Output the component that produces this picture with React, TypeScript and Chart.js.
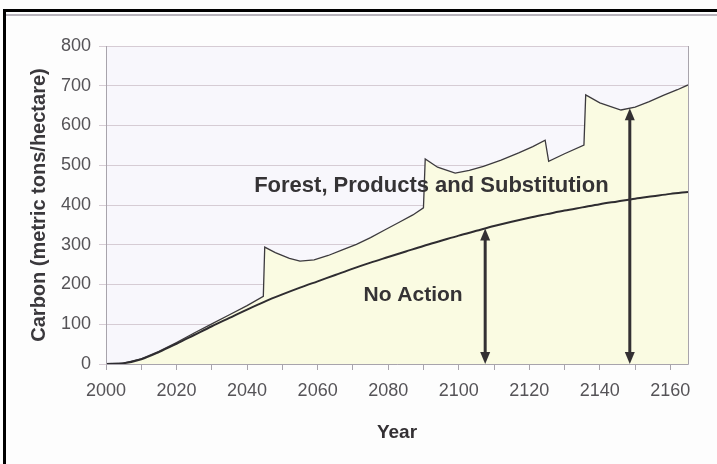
import React, { useEffect, useRef } from "react";
import { Chart, registerables } from "chart.js";

Chart.register(...registerables);

const FONT = '"Liberation Sans", Arial, Helvetica, sans-serif';

// Series names
const seriesNames = ["Forest, Products and Substitution", "No Action"];

// Forest, Products and Substitution (saw-tooth: harvest jumps into products)
const forestYears = [
  2000, 2005, 2010, 2015, 2020, 2025, 2030, 2035, 2040, 2044.6, 2045, 2048, 2052, 2055, 2059,
  2063, 2067, 2071, 2075, 2079, 2083, 2087, 2090, 2090.5, 2094, 2099, 2103, 2107, 2112, 2117,
  2121, 2124.5, 2125.5, 2130, 2135.5, 2136, 2140, 2146, 2150, 2154, 2158, 2162, 2165,
];
const forestValues = [
  0, 2, 13, 32, 54, 78, 101, 124, 147, 170, 294, 280, 266, 259, 262,
  273, 287, 301, 318, 337, 356, 375, 393, 516, 495, 480, 487, 497, 513, 531,
  547, 563, 510, 529, 551, 677, 657, 639, 646, 660, 676, 690, 702,
];

// No Action
const noActionYears = [
  2000, 2005, 2010, 2015, 2020, 2025, 2030, 2035, 2040, 2045, 2050, 2055, 2060, 2065, 2070, 2075, 2080,
  2085, 2090, 2095, 2100, 2105, 2110, 2115, 2120, 2125, 2130, 2135, 2140, 2145, 2150, 2155, 2160, 2165,
];
const noActionValues = [
  0, 2, 12, 30, 51, 73, 95, 116, 137, 157, 175, 192, 208, 224, 240, 255, 269,
  283, 297, 310, 323, 335, 347, 358, 368, 377, 386, 394, 402, 409, 416, 422, 428, 433,
];

// Axis ticks
const xLabelYears = [2000, 2020, 2040, 2060, 2080, 2100, 2120, 2140, 2160];
const yMin = 0;
const yMax = 800;
const yStep = 100;

// Double-headed arrows: the first reaches No Action, the second the Forest series
const arrowYears = [2107.5, 2148.5];

function valueAt(xs: number[], ys: number[], x: number): number {
  for (let i = 0; i < xs.length - 1; i++) {
    if (x >= xs[i] && x <= xs[i + 1]) {
      const t = (x - xs[i]) / (xs[i + 1] - xs[i]);
      return ys[i] + t * (ys[i + 1] - ys[i]);
    }
  }
  return ys[ys.length - 1];
}

function drawArrow(ctx: CanvasRenderingContext2D, x: number, yTop: number, yBottom: number) {
  const head = 12;
  const half = 5;
  ctx.beginPath();
  ctx.moveTo(x, yTop + head - 1);
  ctx.lineTo(x, yBottom - head + 1);
  ctx.stroke();
  ctx.beginPath();
  ctx.moveTo(x, yTop);
  ctx.lineTo(x - half, yTop + head);
  ctx.lineTo(x + half, yTop + head);
  ctx.closePath();
  ctx.fill();
  ctx.beginPath();
  ctx.moveTo(x, yBottom);
  ctx.lineTo(x - half, yBottom - head);
  ctx.lineTo(x + half, yBottom - head);
  ctx.closePath();
  ctx.fill();
}

const decorPlugin = {
  id: "decor",
  beforeDraw(chart: any) {
    const { ctx, chartArea: a } = chart;
    ctx.save();
    ctx.fillStyle = "#f8f7fc";
    ctx.fillRect(a.left, a.top, a.right - a.left, a.bottom - a.top);
    ctx.restore();
  },
  afterDatasetsDraw(chart: any) {
    const { ctx, chartArea: a, scales } = chart;
    const x = scales.x;
    const y = scales.y;
    ctx.save();

    // plot frame: left axis, bottom axis, right edge
    ctx.strokeStyle = "#a8a4ac";
    ctx.lineWidth = 1;
    ctx.beginPath();
    ctx.moveTo(Math.round(a.left) + 0.5, a.top);
    ctx.lineTo(Math.round(a.left) + 0.5, Math.round(a.bottom) + 0.5);
    ctx.lineTo(Math.round(a.right) + 0.5, Math.round(a.bottom) + 0.5);
    ctx.lineTo(Math.round(a.right) + 0.5, a.top);
    ctx.stroke();

    // arrows
    ctx.strokeStyle = "#333033";
    ctx.fillStyle = "#333033";
    ctx.lineWidth = 3;
    const base = y.getPixelForValue(0);
    const v1 = valueAt(noActionYears, noActionValues, arrowYears[0]);
    drawArrow(ctx, x.getPixelForValue(arrowYears[0]), y.getPixelForValue(v1), base);
    const v2 = valueAt(forestYears, forestValues, arrowYears[1]);
    drawArrow(ctx, x.getPixelForValue(arrowYears[1]), y.getPixelForValue(v2), base);

    // series labels
    ctx.fillStyle = "#353335";
    ctx.textAlign = "left";
    ctx.textBaseline = "middle";
    ctx.font = `bold 22px ${FONT}`;
    ctx.fillText(seriesNames[0], x.getPixelForValue(2042), y.getPixelForValue(447));
    ctx.font = `bold 21px ${FONT}`;
    ctx.fillText(seriesNames[1], x.getPixelForValue(2073), y.getPixelForValue(174));
    ctx.restore();
  },
};

export default function App() {
  const canvasRef = useRef<HTMLCanvasElement | null>(null);

  useEffect(() => {
    const canvas = canvasRef.current;
    if (!canvas) return;
    const chart = new Chart(canvas, {
      type: "line",
      data: {
        datasets: [
          {
            label: seriesNames[0],
            data: forestYears.map((yr, i) => ({ x: yr, y: forestValues[i] })),
            borderColor: "#3c3a3e",
            borderWidth: 1.3,
            backgroundColor: "rgb(250,251,226)",
            fill: "origin",
            pointRadius: 0,
            tension: 0,
            order: 2,
          },
          {
            label: seriesNames[1],
            data: noActionYears.map((yr, i) => ({ x: yr, y: noActionValues[i] })),
            borderColor: "#2e2c30",
            borderWidth: 2,
            fill: false,
            pointRadius: 0,
            cubicInterpolationMode: "monotone",
            order: 1,
          },
        ],
      },
      options: {
        responsive: false,
        animation: false,
        devicePixelRatio: 1,
        layout: { padding: { left: 0, top: 46, right: 29, bottom: 0 } },
        plugins: {
          legend: { display: false },
          tooltip: { enabled: false },
        },
        scales: {
          x: {
            type: "linear",
            min: 2000,
            max: 2165,
            afterFit: (s: any) => {
              s.height = 100;
            },
            grid: {
              drawOnChartArea: false,
              drawTicks: true,
              tickLength: 6,
              color: "#a8a4ac",
            },
            border: { display: false },
            ticks: {
              stepSize: 10,
              includeBounds: false,
              autoSkip: false,
              maxRotation: 0,
              padding: 10,
              color: "#555357",
              font: { family: FONT, size: 18 },
              callback: (v: any) => (xLabelYears.includes(Number(v)) ? String(v) : ""),
            },
            title: {
              display: true,
              text: "Year",
              color: "#333033",
              font: { family: FONT, size: 19, weight: "bold" },
              padding: { top: 0, bottom: 20 },
            },
          },
          y: {
            min: yMin,
            max: yMax,
            afterFit: (s: any) => {
              s.width = 106;
            },
            grid: {
              color: "#d6ccd4",
              tickLength: 7,
              drawTicks: true,
            },
            border: { display: false },
            ticks: {
              stepSize: yStep,
              padding: 8,
              color: "#555357",
              font: { family: FONT, size: 18 },
            },
            title: {
              display: true,
              text: "Carbon (metric tons/hectare)",
              color: "#3a383c",
              font: { family: FONT, size: 20, weight: "bold" },
              padding: { top: 27, bottom: 0 },
            },
          },
        },
      },
      plugins: [decorPlugin],
    } as any);
    return () => chart.destroy();
  }, []);

  return (
    <div
      style={{
        position: "absolute",
        left: 0,
        top: 0,
        width: 717,
        height: 464,
        background: "#fdfdfd",
        overflow: "hidden",
      }}
    >
      <div
        style={{
          position: "absolute",
          left: 3,
          top: 9,
          width: 780,
          height: 520,
          border: "3px solid #000",
          boxSizing: "border-box",
        }}
      />
      <div
        style={{
          position: "absolute",
          left: 6,
          top: 14,
          width: 711,
          height: 2,
          background: "#b8b4bc",
        }}
      />
      <canvas
        ref={canvasRef}
        width={717}
        height={464}
        style={{ position: "absolute", left: 0, top: 0, width: 717, height: 464 }}
      />
    </div>
  );
}
